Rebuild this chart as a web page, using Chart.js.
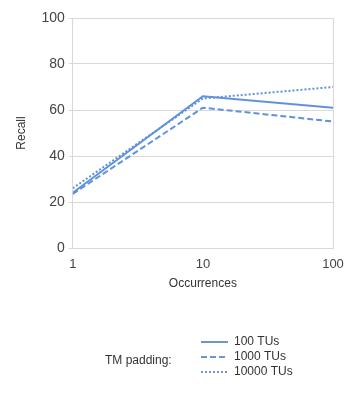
<!DOCTYPE html>
<html>
<head>
<meta charset="utf-8">
<script src="https://cdn.jsdelivr.net/npm/chart.js@4"></script>
<style>
  html, body { margin: 0; padding: 0; background: #fff; }
  #wrap { width: 362px; height: 396px; }
</style>
</head>
<body>
<div id="wrap"><canvas id="recall-chart" width="362" height="396"></canvas></div>
<script>
var occurrences = [1, 10, 100];
var seriesNames = ["100 TUs", "1000 TUs", "10000 TUs"];
var recall100 = [24, 66, 61];
var recall1000 = [23.5, 61, 55];
var recall10000 = [26, 65, 70];
var yTicks = [0, 20, 40, 60, 80, 100];

var blue = "rgb(96,146,220)";
var dashes = [[], [6, 3], [2, 2]];

function pts(vals) {
  return occurrences.map(function (x, i) { return { x: x, y: vals[i] }; });
}

var legendPlugin = {
  id: "sideLegend",
  afterDraw: function (chart) {
    var ctx = chart.ctx;
    ctx.save();
    ctx.font = "12px 'Liberation Sans', Arial, sans-serif";
    ctx.fillStyle = "#333";
    ctx.textBaseline = "middle";
    ctx.fillText("TM padding:", 105, 361);
    chart.data.datasets.forEach(function (ds, i) {
      var y = 342 + i * 15;
      ctx.strokeStyle = "rgb(110,150,200)";
      ctx.lineWidth = 2;
      ctx.setLineDash(ds.borderDash || []);
      ctx.beginPath();
      ctx.moveTo(201, y);
      ctx.lineTo(228, y);
      ctx.stroke();
      ctx.setLineDash([]);
      ctx.fillText(ds.label, 234, y);
    });
    ctx.restore();
  }
};

new Chart("recall-chart", {
  type: "line",
  data: {
    datasets: [
      { label: seriesNames[0], data: pts(recall100), borderDash: dashes[0] },
      { label: seriesNames[1], data: pts(recall1000), borderDash: dashes[1] },
      { label: seriesNames[2], data: pts(recall10000), borderDash: dashes[2] }
    ].map(function (d) {
      d.borderColor = blue;
      d.backgroundColor = blue;
      d.borderWidth = 2;
      d.pointRadius = 0;
      d.fill = false;
      d.tension = 0;
      return d;
    })
  },
  options: {
    responsive: false,
    animation: false,
    layout: { padding: { left: 10, top: 18, right: 29, bottom: 101 } },
    plugins: {
      legend: { display: false },
      tooltip: { enabled: false }
    },
    scales: {
      x: {
        type: "logarithmic",
        min: 1,
        max: 100,
        afterBuildTicks: function (axis) {
          axis.ticks = occurrences.map(function (v) { return { value: v }; });
        },
        ticks: {
          color: "#444",
          font: { size: 13, family: "'Liberation Sans', Arial, sans-serif" },
          callback: function (v) { return String(v); },
          maxRotation: 0,
          padding: 9
        },
        grid: {
          color: function (c) { return c.tick && c.tick.value === 10 ? "rgba(0,0,0,0)" : "rgb(217,217,217)"; },
          tickLength: 0
        },
        border: { color: "rgb(217,217,217)" },
        title: {
          display: true,
          text: "Occurrences",
          color: "#333",
          font: { size: 12, family: "'Liberation Sans', Arial, sans-serif" },
          padding: { top: -5 }
        }
      },
      y: {
        min: 0,
        max: 100,
        afterBuildTicks: function (axis) {
          axis.ticks = yTicks.map(function (v) { return { value: v }; });
        },
        ticks: {
          color: "#444",
          font: { size: 14, family: "'Liberation Sans', Arial, sans-serif" },
          padding: 4
        },
        grid: { color: "rgb(217,217,217)", tickLength: 4 },
        border: { color: "rgb(217,217,217)" },
        title: {
          display: true,
          text: "Recall",
          color: "#333",
          font: { size: 12, family: "'Liberation Sans', Arial, sans-serif" },
          padding: { bottom: 9 }
        }
      }
    }
  },
  plugins: [legendPlugin]
});
</script>
</body>
</html>
